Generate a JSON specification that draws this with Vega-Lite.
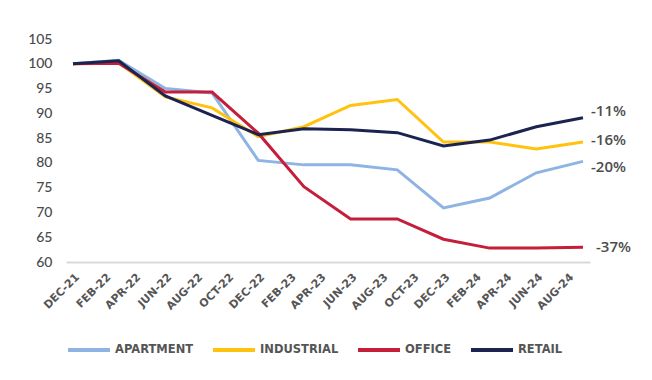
{
  "$schema": "https://vega.github.io/schema/vega-lite/v6.json",
  "autosize": "none",
  "width": 524,
  "height": 223,
  "padding": {"left": 66, "top": 39, "right": 62, "bottom": 118},
  "background": "white",
  "config": {
    "view": {"stroke": null},
    "font": "Lato",
    "text": {"font": "Open Sans"}
  },
  "data": {
    "values": [
      {"date": "2021-12-01", "series": "APARTMENT", "value": 100},
      {"date": "2022-03-01", "series": "APARTMENT", "value": 100.7},
      {"date": "2022-06-01", "series": "APARTMENT", "value": 95.0},
      {"date": "2022-09-01", "series": "APARTMENT", "value": 94.1},
      {"date": "2022-12-01", "series": "APARTMENT", "value": 80.5},
      {"date": "2023-03-01", "series": "APARTMENT", "value": 79.6},
      {"date": "2023-06-01", "series": "APARTMENT", "value": 79.6},
      {"date": "2023-09-01", "series": "APARTMENT", "value": 78.6},
      {"date": "2023-12-01", "series": "APARTMENT", "value": 70.9},
      {"date": "2024-03-01", "series": "APARTMENT", "value": 72.9},
      {"date": "2024-06-01", "series": "APARTMENT", "value": 78.0},
      {"date": "2024-09-01", "series": "APARTMENT", "value": 80.3, "label": "-20%"},
      {"date": "2021-12-01", "series": "INDUSTRIAL", "value": 100},
      {"date": "2022-03-01", "series": "INDUSTRIAL", "value": 100.2},
      {"date": "2022-06-01", "series": "INDUSTRIAL", "value": 93.3},
      {"date": "2022-09-01", "series": "INDUSTRIAL", "value": 91.1},
      {"date": "2022-12-01", "series": "INDUSTRIAL", "value": 85.3},
      {"date": "2023-03-01", "series": "INDUSTRIAL", "value": 87.3},
      {"date": "2023-06-01", "series": "INDUSTRIAL", "value": 91.6},
      {"date": "2023-09-01", "series": "INDUSTRIAL", "value": 92.8},
      {"date": "2023-12-01", "series": "INDUSTRIAL", "value": 84.2},
      {"date": "2024-03-01", "series": "INDUSTRIAL", "value": 84.2},
      {"date": "2024-06-01", "series": "INDUSTRIAL", "value": 82.8},
      {"date": "2024-09-01", "series": "INDUSTRIAL", "value": 84.2, "label": "-16%"},
      {"date": "2021-12-01", "series": "OFFICE", "value": 100},
      {"date": "2022-03-01", "series": "OFFICE", "value": 100.1},
      {"date": "2022-06-01", "series": "OFFICE", "value": 94.3},
      {"date": "2022-09-01", "series": "OFFICE", "value": 94.3},
      {"date": "2022-12-01", "series": "OFFICE", "value": 86.0},
      {"date": "2023-03-01", "series": "OFFICE", "value": 75.2},
      {"date": "2023-06-01", "series": "OFFICE", "value": 68.7},
      {"date": "2023-09-01", "series": "OFFICE", "value": 68.7},
      {"date": "2023-12-01", "series": "OFFICE", "value": 64.6},
      {"date": "2024-03-01", "series": "OFFICE", "value": 62.8},
      {"date": "2024-06-01", "series": "OFFICE", "value": 62.8},
      {"date": "2024-09-01", "series": "OFFICE", "value": 63.0, "label": "-37%"},
      {"date": "2021-12-01", "series": "RETAIL", "value": 100},
      {"date": "2022-03-01", "series": "RETAIL", "value": 100.6},
      {"date": "2022-06-01", "series": "RETAIL", "value": 93.5},
      {"date": "2022-09-01", "series": "RETAIL", "value": 89.6},
      {"date": "2022-12-01", "series": "RETAIL", "value": 85.7},
      {"date": "2023-03-01", "series": "RETAIL", "value": 86.9},
      {"date": "2023-06-01", "series": "RETAIL", "value": 86.7},
      {"date": "2023-09-01", "series": "RETAIL", "value": 86.1},
      {"date": "2023-12-01", "series": "RETAIL", "value": 83.4},
      {"date": "2024-03-01", "series": "RETAIL", "value": 84.6},
      {"date": "2024-06-01", "series": "RETAIL", "value": 87.3},
      {"date": "2024-09-01", "series": "RETAIL", "value": 89.1, "label": "-11%"}
    ]
  },
  "encoding": {
    "x": {
      "field": "date",
      "type": "temporal",
      "scale": {"type": "utc", "nice": false, "padding": 7},
      "axis": {
        "title": null,
        "values": [
          {"year": 2021, "month": 12, "date": 1, "utc": true},
          {"year": 2022, "month": 2, "date": 1, "utc": true},
          {"year": 2022, "month": 4, "date": 1, "utc": true},
          {"year": 2022, "month": 6, "date": 1, "utc": true},
          {"year": 2022, "month": 8, "date": 1, "utc": true},
          {"year": 2022, "month": 10, "date": 1, "utc": true},
          {"year": 2022, "month": 12, "date": 1, "utc": true},
          {"year": 2023, "month": 2, "date": 1, "utc": true},
          {"year": 2023, "month": 4, "date": 1, "utc": true},
          {"year": 2023, "month": 6, "date": 1, "utc": true},
          {"year": 2023, "month": 8, "date": 1, "utc": true},
          {"year": 2023, "month": 10, "date": 1, "utc": true},
          {"year": 2023, "month": 12, "date": 1, "utc": true},
          {"year": 2024, "month": 2, "date": 1, "utc": true},
          {"year": 2024, "month": 4, "date": 1, "utc": true},
          {"year": 2024, "month": 6, "date": 1, "utc": true},
          {"year": 2024, "month": 8, "date": 1, "utc": true}
        ],
        "labelExpr": "upper(utcFormat(datum.value, '%b-%y'))",
        "labelAngle": -45,
        "labelFont": "DejaVu Sans",
        "labelFontSize": 11,
        "labelFontWeight": "bold",
        "labelColor": "#555555",
        "labelPadding": 9,
        "ticks": false,
        "grid": false,
        "domainColor": "#d9d9d9",
        "domainWidth": 2,
        "labelOverlap": false,
        "labelFlush": false
      }
    },
    "y": {
      "field": "value",
      "type": "quantitative",
      "scale": {"domain": [60, 105], "nice": false, "zero": false},
      "axis": {
        "title": null,
        "values": [60, 65, 70, 75, 80, 85, 90, 95, 100, 105],
        "grid": false,
        "domain": false,
        "ticks": false,
        "labelFontSize": 14,
        "labelColor": "#4a4a4a",
        "labelFontWeight": 500,
        "labelPadding": 14
      }
    }
  },
  "layer": [
    {
      "mark": {"type": "line", "strokeWidth": 3, "strokeJoin": "miter"},
      "encoding": {
        "color": {
          "field": "series",
          "type": "nominal",
          "scale": {
            "domain": ["APARTMENT", "INDUSTRIAL", "OFFICE", "RETAIL"],
            "range": ["#8DB4E2", "#FFC20E", "#C41E3A", "#1B2450"]
          },
          "legend": {
            "title": null,
            "orient": "bottom",
            "direction": "horizontal",
            "symbolType": "stroke",
            "symbolStrokeWidth": 4,
            "symbolSize": 1764,
            "labelFontSize": 11.5,
            "labelFontWeight": "bold",
            "labelColor": "#555555",
            "labelFont": "DejaVu Sans",
            "columnPadding": 11,
            "offset": 15,
            "labelOffset": 3
          }
        }
      }
    },
    {
      "transform": [{"filter": "datum.label == '-11%'"}],
      "mark": {"type": "text", "font": "Open Sans", "align": "left", "dx": 8, "dy": -7, "fontSize": 15, "fontWeight": 600, "color": "#4d4d4d"},
      "encoding": {"text": {"field": "label"}}
    },
    {
      "transform": [{"filter": "datum.label == '-16%'"}],
      "mark": {"type": "text", "font": "Open Sans", "align": "left", "dx": 8, "dy": -2, "fontSize": 15, "fontWeight": 600, "color": "#4d4d4d"},
      "encoding": {"text": {"field": "label"}}
    },
    {
      "transform": [{"filter": "datum.label == '-20%'"}],
      "mark": {"type": "text", "font": "Open Sans", "align": "left", "dx": 8, "dy": 6, "fontSize": 15, "fontWeight": 600, "color": "#4d4d4d"},
      "encoding": {"text": {"field": "label"}}
    },
    {
      "transform": [{"filter": "datum.label == '-37%'"}],
      "mark": {"type": "text", "font": "Open Sans", "align": "left", "dx": 13, "dy": 0, "fontSize": 15, "fontWeight": 600, "color": "#4d4d4d"},
      "encoding": {"text": {"field": "label"}}
    }
  ]
}
